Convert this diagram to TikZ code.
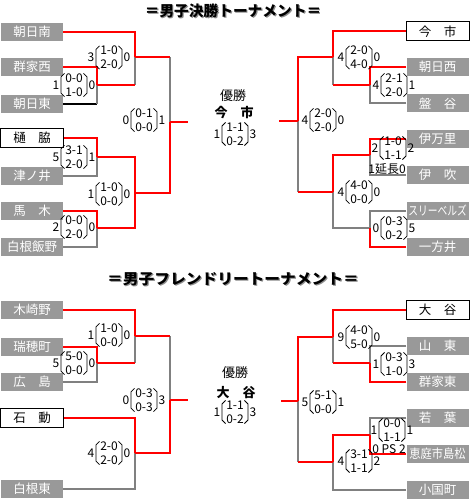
\documentclass[tikz,border=0pt]{standalone}
\usepackage{fontspec}
\setmainfont{Noto Sans CJK JP}
\usepackage{graphicx}
\definecolor{boxgray}{HTML}{999999}
\definecolor{linegray}{HTML}{808080}

\newcommand{\mscore}[6]{%
  \node[pair] (#1) at (#2) {#4\\#5};
  \draw[brk] ([xshift=4.5pt]#1.north west) -- ([xshift=1pt,yshift=-3.5pt]#1.north west)
    -- ([xshift=1pt,yshift=3.5pt]#1.south west) -- ([xshift=4.5pt]#1.south west);
  \draw[brk] ([xshift=-4.5pt]#1.north east) -- ([xshift=-1pt,yshift=-3.5pt]#1.north east)
    -- ([xshift=-1pt,yshift=3.5pt]#1.south east) -- ([xshift=-4.5pt]#1.south east);
  \node[num,anchor=east] (#1l) at (#1.west) {#3};
  \node[num,anchor=west] (#1r) at (#1.east) {#6};
}

\begin{document}
\begin{tikzpicture}[x=1pt,y=-1pt,
  team/.style={fill=boxgray,text=white,minimum width=62pt,minimum height=18pt,inner sep=0pt,font=\fontsize{12.5}{13}\selectfont},
  final/.style={team,fill=white,draw=black,line width=1pt,text=black,minimum width=63pt,minimum height=19pt},
  win/.style={red,line width=2pt},
  lose/.style={linegray,line width=2pt},
  lost/.style={black,line width=2pt},
  num/.style={inner sep=0.5pt,font=\fontsize{12}{14}\selectfont},
  pair/.style={num,align=center,inner xsep=5pt,inner ysep=0pt},
  brk/.style={line width=0.8pt},
  ttl/.style={font=\fontsize{14.7}{16}\selectfont\bfseries},
  champ/.style={font=\fontsize{13}{14}\selectfont}]
\useasboundingbox (0,0) rectangle (470,500);

\node[ttl,text=black!45] (h1s) at (234.2,12.2) {＝男子決勝トーナメント＝};
\node[ttl] (h1) at (233,11) {＝男子決勝トーナメント＝};
\node[ttl,text=black!45] (h2s) at (234.2,280.2) {\scalebox{1.07}[1]{＝男子フレンドリートーナメント＝}};
\node[ttl] (h2) at (233,279) {\scalebox{1.07}[1]{＝男子フレンドリートーナメント＝}};

\node[team] (t1) at (32,32) {朝日南};
\node[team] (t2) at (32,67) {群家西};
\node[team] (t3) at (32,104) {朝日東};
\node[final] (t4) at (32,138) {樋　脇};
\node[team] (t5) at (32,176) {津ノ井};
\node[team] (t6) at (32,211) {馬　木};
\node[team] (t7) at (32,247) {白根飯野};

\node[final] (r1) at (437.5,31.5) {今　市};
\node[team] (r2) at (437.5,67) {朝日西};
\node[team] (r3) at (437.5,103.5) {盤　谷};
\node[team] (r4) at (437.5,138.5) {伊万里};
\node[team] (r5) at (437.5,175) {伊　吹};
\node[team] (r6) at (437.5,210.5) {\scalebox{0.78}[1]{スリーベルズ}};
\node[team] (r7) at (437.5,247) {一方井};

\node[team] (b1) at (32,310) {木崎野};
\node[team] (b2) at (32,346.5) {瑞穂町};
\node[team] (b3) at (32,382) {広　島};
\node[final] (b4) at (32,418) {石　動};
\node[team] (b5) at (32,489) {白根東};

\node[final] (s1) at (437.5,310) {大　谷};
\node[team] (s2) at (437.5,346) {山　東};
\node[team] (s3) at (437.5,382) {群家東};
\node[team] (s4) at (437.5,418) {若　葉};
\node[team] (s5) at (437.5,454) {\scalebox{0.9}[1]{恵庭市島松}};
\node[team] (s6) at (437.5,490) {小国町};

\coordinate (mA) at (97,85.5);
\coordinate (mB) at (135,57.5);
\coordinate (mC) at (97,157);
\coordinate (mD) at (97,228);
\coordinate (mE) at (135,192.5);
\coordinate (mF) at (170,122);
\coordinate (cL) at (188,122);
\coordinate (mG) at (333,57.5);
\coordinate (mH) at (370,85);
\coordinate (mI) at (370,155);
\coordinate (mJ) at (333,192);
\coordinate (mK) at (370,228);
\coordinate (mL) at (298,121);
\coordinate (cR) at (279,121);
\coordinate (mM) at (97,363);
\coordinate (mN) at (135,336);
\coordinate (mO) at (135,453);
\coordinate (mP) at (170,400);
\coordinate (cL2) at (188,400);
\coordinate (mQ) at (333,337);
\coordinate (mR) at (370,363);
\coordinate (mT) at (370,435);
\coordinate (mU) at (333,462);
\coordinate (mS) at (298,401);
\coordinate (cR2) at (281,401);

\draw[lost] (t3.east) -- (t3.east -| mA);
\draw[lose] (t3.east -| mA) -- (mA);
\draw[lose] (t5.east) -| (mC);
\draw[lose] (t7.east) -| (mD);
\draw[lose] (mA -| mB) -- (mB);
\draw[lose] (mB -| mF) -- (mF);
\draw[lose] (r3.west) -| (mH);
\draw[lose] (mH -| mG) -- (mG);
\draw[lose] (r5.west) -| (mI);
\draw[lose] (r6.west) -| (mK);
\draw[lose] (mK) -| (mJ);
\draw[lose] (mJ -| mL) -- (mL);
\draw[lose] (b3.east) -| (mM);
\draw[lose] (mM -| mN) -- (mN);
\draw[lose] (mN -| mP) -- (mP);
\draw[lose] (b5.east) -| (mO);
\draw[lose] (s2.west) -| (mR);
\draw[lose] (mR -| mQ) -- (mQ);
\draw[lose] (s4.west) -| (mT);
\draw[lose] (s6.west) -| (mU);
\draw[lose] (mU -| mS) -- (mS);

\draw[win] (t1.east) -| (mB);
\draw[win] (t2.east) -| (mA);
\draw[win] (mA) -- (mA -| mB);
\draw[win] (mB) -- (mB -| mF);
\draw[win] (t4.east) -| (mC);
\draw[win] (t6.east) -| (mD);
\draw[win] (mC) -| (mE);
\draw[win] (mD) -| (mE);
\draw[win] (mE) -| (mF);
\draw[win] (mF) -- (cL);
\draw[win] (r1.west) -| (mG);
\draw[win] (r2.west) -| (mH);
\draw[win] (mH) -- (mH -| mG);
\draw[win] (mG) -| (mL);
\draw[win] (r4.west) -| (mI);
\draw[win] (mI) -| (mJ);
\draw[win] (r7.west) -| (mK);
\draw[win] (mJ) -- (mJ -| mL);
\draw[win] (mL) -- (cR);
\draw[win] (b1.east) -| (mN);
\draw[win] (b2.east) -| (mM);
\draw[win] (mM) -- (mM -| mN);
\draw[win] (mN) -- (mN -| mP);
\draw[win] (b4.east) -| (mO);
\draw[win] (mO) -| (mP);
\draw[win] (mP) -- (cL2);
\draw[win] (s1.west) -| (mQ);
\draw[win] (s3.west) -| (mR);
\draw[win] (mR) -- (mR -| mQ);
\draw[win] (mQ) -| (mS);
\draw[win] (s5.west) -| (mT);
\draw[win] (mT) -| (mU);
\draw[win] (mU) -- (mU -| mS);
\draw[win] (mS) -- (cR2);

\mscore{scA}{74,85}{1}{0-0}{1-0}{0}
\mscore{scB}{109,57.5}{3}{1-0}{2-0}{0}
\mscore{scC}{74,157}{5}{3-1}{2-0}{1}
\mscore{scD}{74,227}{2}{0-0}{2-0}{0}
\mscore{scE}{109,194}{1}{1-0}{0-0}{0}
\mscore{scF}{144,120}{0}{0-1}{0-0}{1}
\mscore{scG}{359,57.5}{4}{2-0}{4-0}{0}
\mscore{scH}{394,85}{4}{2-1}{2-0}{1}
\mscore{scI}{393,148}{2}{1-0}{1-1}{2}
\mscore{scJ}{359,192}{4}{4-0}{0-0}{0}
\mscore{scK}{394,228}{0}{0-3}{0-2}{5}
\mscore{scL}{323,120}{4}{2-0}{2-0}{0}
\node[num] (ext) at (387,169) {1延長0};

\node[champ] (w1) at (233,96) {優勝};
\node[champ,font=\fontsize{13}{14}\selectfont\bfseries] (n1) at (234,113) {今　市};
\mscore{fin1}{235,134}{1}{1-1}{0-2}{3}

\mscore{scM}{74,363}{5}{5-0}{0-0}{0}
\mscore{scN}{109,335}{1}{1-0}{0-0}{0}
\mscore{scO}{109,453}{4}{2-0}{2-0}{0}
\mscore{scP}{144,400}{0}{0-3}{0-3}{3}
\mscore{scQ}{359,337}{9}{4-0}{5-0}{0}
\mscore{scR}{394,364}{1}{0-3}{1-0}{3}
\mscore{scS}{323,402}{5}{5-1}{0-0}{1}
\mscore{scT}{392,430}{1}{0-0}{1-1}{1}
\mscore{scU}{359,461}{4}{3-1}{1-1}{2}
\node[num] (pk) at (389,449) {0\ PS\ 2};

\node[champ] (w2) at (235,373) {優勝};
\node[champ,font=\fontsize{13}{14}\selectfont\bfseries] (n2) at (236,393) {大　谷};
\mscore{fin2}{235,412}{1}{1-1}{0-2}{3}
\end{tikzpicture}
\end{document}
